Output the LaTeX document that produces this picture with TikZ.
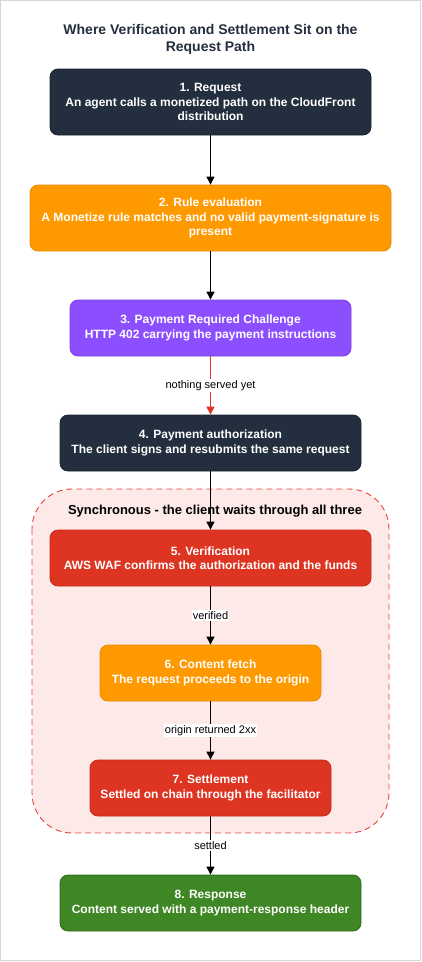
\documentclass[tikz,border=0pt]{standalone}
\usepackage{fontspec}
\setmainfont{Liberation Sans}
\usetikzlibrary{arrows.meta}
\definecolor{navy}{HTML}{232F3E}
\definecolor{navyline}{HTML}{1A232F}
\definecolor{awsorange}{HTML}{FF9900}
\definecolor{orangeline}{HTML}{E68A00}
\definecolor{awspurple}{HTML}{8C4FFF}
\definecolor{purpleline}{HTML}{7A3FE6}
\definecolor{awsred}{HTML}{DD3522}
\definecolor{redline}{HTML}{C42A1A}
\definecolor{awsgreen}{HTML}{3F8624}
\definecolor{greenline}{HTML}{2F6B1A}
\definecolor{pinkfill}{HTML}{FDE9E7}
\definecolor{dashred}{HTML}{E8453C}
\definecolor{framegray}{HTML}{D6D6D6}
\tikzset{
  stepbox/.style={rectangle, rounded corners=8pt, line width=0.8pt, text=white,
    align=center, inner sep=0pt,
    font=\fontsize{12}{14.4}\selectfont\bfseries},
  flow/.style={line width=1pt, -{Triangle[length=8pt,width=8pt]}},
  edgelabel/.style={fill=white, inner sep=1pt, text=black,
    font=\fontsize{11}{13}\selectfont},
}
\begin{document}
\begin{tikzpicture}[x=1pt,y=-1pt]
\useasboundingbox (0,0) rectangle (422,962);
\draw[framegray, line width=1.2pt] (0.6,0.6) rectangle (420.4,960.4);

\node[font=\fontsize{14}{17}\selectfont\bfseries, text=navy, align=center] (title) at (210.5,39.5)
  {Where Verification and Settlement Sit on the\\Request Path};

% container
\draw[dashred, fill=pinkfill, dashed, dash pattern=on 6pt off 4pt, line width=0.9pt,
  rounded corners=40pt] (32,489) rectangle (389,833);
\node[font=\fontsize{13}{15.6}\selectfont\bfseries, text=black] (grouplabel) at (215,511)
  {Synchronous - the client waits through all three};

\node[stepbox, fill=navy, draw=navyline, minimum width=321pt, minimum height=66pt] (b1) at (210.5,102)
  {1. Request\\An agent calls a monetized path on the CloudFront\\distribution};
\node[stepbox, fill=awsorange, draw=orangeline, minimum width=361pt, minimum height=66pt] (b2) at (210.5,218)
  {2. Rule evaluation\\A Monetize rule matches and no valid payment-signature is\\present};
\node[stepbox, fill=awspurple, draw=purpleline, minimum width=281pt, minimum height=56pt] (b3) at (210.5,328)
  {3. Payment Required Challenge\\HTTP 402 carrying the payment instructions};
\node[stepbox, fill=navy, draw=navyline, minimum width=301pt, minimum height=56pt] (b4) at (210.5,443)
  {4. Payment authorization\\The client signs and resubmits the same request};
\node[stepbox, fill=awsred, draw=redline, minimum width=321pt, minimum height=56pt] (b5) at (210.5,558)
  {5. Verification\\AWS WAF confirms the authorization and the funds};
\node[stepbox, fill=awsorange, draw=orangeline, minimum width=221pt, minimum height=56pt] (b6) at (210.5,673)
  {6. Content fetch\\The request proceeds to the origin};
\node[stepbox, fill=awsred, draw=redline, minimum width=241pt, minimum height=56pt] (b7) at (210.5,788)
  {7. Settlement\\Settled on chain through the facilitator};
\node[stepbox, fill=awsgreen, draw=greenline, minimum width=301pt, minimum height=56pt] (b8) at (210.5,903)
  {8. Response\\Content served with a payment-response header};

\draw[flow] (b1) -- (b2);
\draw[flow] (b2) -- (b3);
\draw[flow, awsred] (b3) -- node[edgelabel] {nothing served yet} (b4);
\draw[flow] (b4) -- (b5);
\draw[flow] (b5) -- node[edgelabel] {verified} (b6);
\draw[flow] (b6) -- node[edgelabel] {origin returned 2xx} (b7);
\draw[flow] (b7) -- node[edgelabel] {settled} (b8);
\end{tikzpicture}
\end{document}
